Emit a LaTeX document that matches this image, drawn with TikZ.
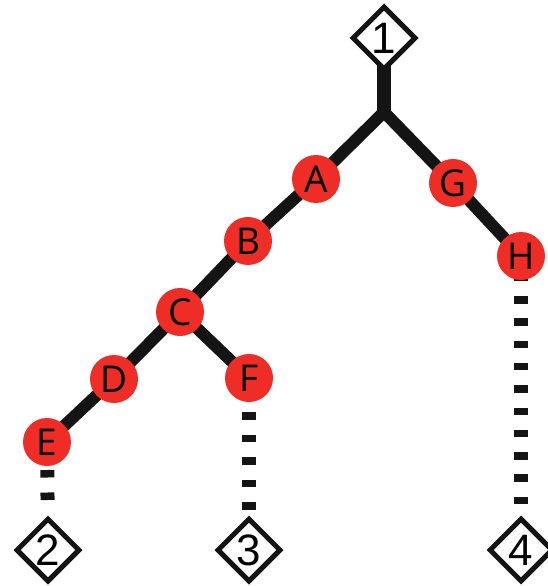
\documentclass[tikz,border=0pt]{standalone}
\usepackage{fontspec}
\setmainfont{Liberation Sans}
\newfontfamily\letterfont{Open Sans}
\usetikzlibrary{shapes.geometric,backgrounds}
\definecolor{nodered}{RGB}{238,45,38}
\definecolor{ink}{RGB}{20,20,20}
\begin{document}
\begin{tikzpicture}[x=1pt,y=-1pt,
  vtx/.style={circle,fill=nodered,minimum size=48pt,inner sep=0pt,font=\letterfont\fontsize{37}{37}\selectfont},
  leaf/.style={diamond,draw=ink,fill=white,line width=5pt,minimum width=64pt,minimum height=64pt,inner sep=0pt,font=\fontsize{44}{44}\selectfont,miter limit=10},
  edge/.style={draw=ink,line width=12pt},
  stem/.style={draw=ink,line width=14pt},
  dashedge/.style={draw=ink,line width=14pt,shorten >=40pt}]
\useasboundingbox (0,0) rectangle (547,586);
% nodes
\node[leaf] (d1) at (384,38) {1};
\node[leaf] (d2) at (48,550) {2};
\node[leaf] (d3) at (249,550) {3};
\node[leaf] (d4) at (521,550) {4};
\coordinate (J) at (384,112);
\node[vtx] (A) at (316,179) {A};
\node[vtx] (B) at (248,241) {B};
\node[vtx] (C) at (180,312) {C};
\node[vtx] (D) at (114,379) {D};
\node[vtx] (E) at (47,442) {E};
\node[vtx] (F) at (249,378) {F};
\node[vtx] (G) at (453,183) {G};
\node[vtx] (H) at (521,256) {H};
\begin{pgfonlayer}{background}
\draw[stem] (d1.center) -- (J);
\draw[edge,line join=miter] (A.center) -- (J) -- (G.center);
\draw[edge] (A.center) -- (B.center) -- (C.center) -- (D.center) -- (E.center);
\draw[edge] (C.center) -- (F.center);
\draw[edge] (G.center) -- (H.center);
\draw[dashedge,dash pattern=on 7.5pt off 15pt,dash phase=17pt] (E.center) -- (d2.center);
\draw[dashedge,dash pattern=on 7.5pt off 15pt,dash phase=11pt] (F.center) -- (d3.center);
\draw[dashedge,dash pattern=on 7.5pt off 14.8pt,dash phase=4.6pt] (H.center) -- (d4.center);
\end{pgfonlayer}
\end{tikzpicture}
\end{document}
